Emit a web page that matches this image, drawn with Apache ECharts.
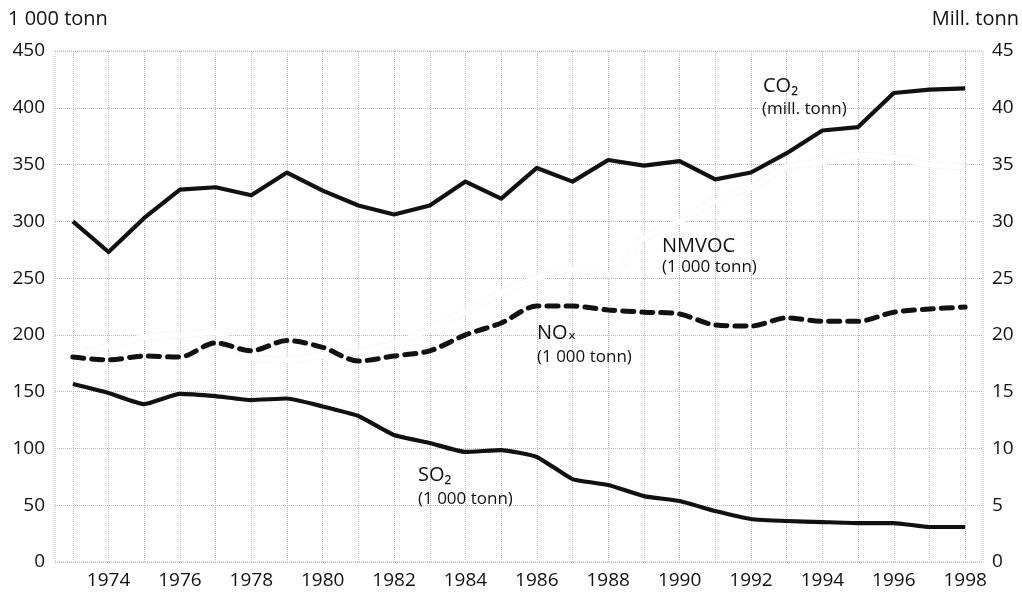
<!DOCTYPE html>
<html>
<head>
<meta charset="utf-8">
<script src="https://cdn.jsdelivr.net/npm/echarts@6/dist/echarts.min.js"></script>
<style>
html,body{margin:0;padding:0;background:#fff;}
#chart{width:1022px;height:592px;}
</style>
</head>
<body>
<div id="chart"></div>
<script>
const years = ['1973','1974','1975','1976','1977','1978','1979','1980','1981','1982','1983','1984','1985','1986','1987','1988','1989','1990','1991','1992','1993','1994','1995','1996','1997','1998'];
// CO2, mill. tonn (right axis)
const co2 = [30.0,27.3,30.3,32.8,33.0,32.3,34.3,32.7,31.4,30.6,31.4,33.5,32.0,34.7,33.5,35.4,34.9,35.3,33.7,34.3,36.0,38.0,38.3,41.3,41.6,41.7];
// NOx, 1 000 tonn
const nox = [180.5,178,181.4,180.5,193,186,195,189,177,181.4,186,200,210.5,225.4,225.4,222,220,218.4,208.7,207.8,215,212,212,220,222.8,224.5];
// SO2, 1 000 tonn
const so2 = [156.7,148.8,139,148,146,142.6,144,137,128.6,111.8,104.8,96.9,98.6,92.5,73,67.8,58,53.7,44.9,37.9,36.1,35.2,34.3,34.3,30.8,30.8];
// NMVOC, 1 000 tonn (faint white line)
const nmvoc = [182,190,198,200,202,180,178,182,185,192,205,220,237,250,258,253,285,300,318,330,348,352,358,356,350,348];
const leftTicks = {min:0, max:450, interval:50};
const rightTicks = {min:0, max:45, interval:5};

const FONT = '"Open Sans", "DejaVu Sans", sans-serif';
const gridColor = '#bdbdbd';

const chart = echarts.init(document.getElementById('chart'), null, {renderer:'canvas'});
function txt(x, y, text, size, align){
  return {type:'text', x:x, y:y, z:100, style:{text:text, fontSize:size, fontFamily:FONT, fill:'#111', verticalAlign:'middle', align:align || 'left'}};
}
chart.setOption({
  animation:false,
  backgroundColor:'#fff',
  grid:{left:55, right:39, top:51, bottom:30, show:true, borderColor:gridColor, borderWidth:1, borderType:'dotted', outerBoundsMode:'none'},
  xAxis:{
    type:'category', data:years, boundaryGap:true,
    axisLine:{show:false}, axisTick:{show:false},
    axisLabel:{interval:(i)=> i%2===1, color:'#111', fontSize:19, fontFamily:FONT, margin:9},
    splitLine:{show:true, alignWithLabel:true, interval:0, lineStyle:{color:gridColor, type:'dotted', width:1}}
  },
  yAxis:[
    {type:'value', min:leftTicks.min, max:leftTicks.max, interval:leftTicks.interval,
     axisLine:{show:false}, axisTick:{show:false},
     axisLabel:{color:'#111', fontSize:19, fontFamily:FONT, margin:10},
     splitLine:{show:true, lineStyle:{color:gridColor, type:'dotted', width:1}}},
    {type:'value', min:rightTicks.min, max:rightTicks.max, interval:rightTicks.interval, position:'right',
     axisLine:{show:false}, axisTick:{show:false},
     axisLabel:{color:'#111', fontSize:19, fontFamily:FONT, margin:9},
     splitLine:{show:false}}
  ],
  series:[
    {name:'NMVOC', type:'line', data:nmvoc, yAxisIndex:0, symbol:'none', smooth:0.3, z:2,
     lineStyle:{color:'#ffffff', width:6, shadowColor:'rgba(0,0,0,0.12)', shadowBlur:1.5}},
    {name:'CO2', type:'line', data:co2, yAxisIndex:1, symbol:'none', z:5,
     lineStyle:{color:'#111', width:4.2, join:'round'}},
    {name:'NOx', type:'line', data:nox, yAxisIndex:0, symbol:'none', smooth:0.3, z:5,
     lineStyle:{color:'#111', width:5, type:[11,8], cap:'round'}},
    {name:'SO2', type:'line', data:so2, yAxisIndex:0, symbol:'none', smooth:0.15, z:5,
     lineStyle:{color:'#111', width:4.2, join:'round'}}
  ],
  graphic:[
    txt(8, 19, '1 000 tonn', 20),
    txt(1019, 19, 'Mill. tonn', 20, 'right'),
    txt(763, 86, 'CO₂', 20),
    txt(762, 109, '(mill. tonn)', 17),
    txt(662, 246, 'NMVOC', 20),
    txt(662, 267, '(1 000 tonn)', 17),
    txt(537, 333, 'NOₓ', 20),
    txt(537, 357, '(1 000 tonn)', 17),
    txt(418, 475, 'SO₂', 20),
    txt(418, 499, '(1 000 tonn)', 17)
  ]
});
</script>
</body>
</html>
